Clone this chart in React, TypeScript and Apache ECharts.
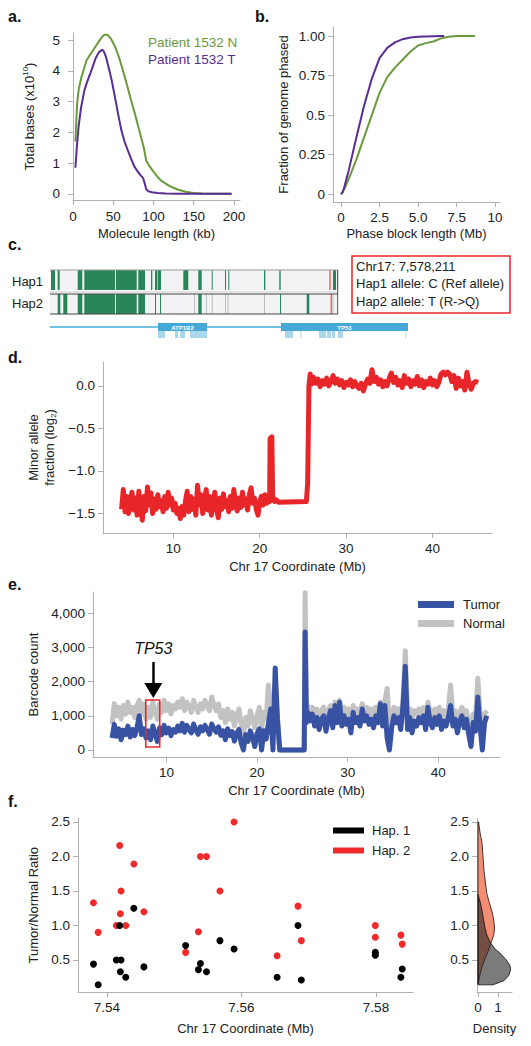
import React, { useEffect, useRef } from 'react';
import * as echarts from 'echarts';

const FONT = 'Liberation Sans, Arial, sans-serif';
const GREEN = '#6a9a3c';
const PURPLE = '#5a2d93';
const RED = '#e8262a';
const BLUE = '#3953a4';
const GRAY = '#c2c2c2';
const AX = '#b0b0b0';
const TXT = '#222222';

// ---------- Panel a: molecule length distribution ----------
const aNormal = [[3,1.7],[5,2.9],[7,3.38],[10,3.75],[14,4.1],[17,4.35],[22,4.55],[27,4.75],[32,4.95],[36,5.1],[39,5.17],[43,5.17],[47,5.05],[52,4.8],[57,4.45],[62,4.02],[67,3.55],[72,3.06],[77,2.6],[81,2.2],[84,1.9],[88,1.5],[91,1.08],[95,0.9],[100,0.72],[105,0.55],[110,0.42],[120,0.25],[130,0.14],[140,0.07],[150,0.03],[160,0.01],[175,0],[197,0]];
const aTumor = [[3,0.85],[5,1.6],[7,2.2],[10,2.8],[14,3.35],[17,3.6],[22,3.95],[28,4.4],[32,4.6],[36,4.68],[38,4.65],[41,4.45],[44,4.14],[48,3.7],[52,3.16],[56,2.6],[60,2.08],[64,1.7],[68,1.42],[72,1.15],[76,0.9],[80,0.74],[84,0.6],[87,0.52],[89,0.35],[91,0.15],[94,0.08],[98,0.05],[105,0.03],[115,0.01],[130,0],[197,0]];
const aXTicks = [0, 50, 100, 150, 200];
const aYTicks = [0, 1, 2, 3, 4, 5];

// ---------- Panel b: phase block length CDF ----------
const bNormal = [[0,0],[0.15,0.02],[0.3,0.05],[0.6,0.12],[1,0.22],[1.5,0.36],[2,0.5],[2.5,0.64],[3,0.74],[3.5,0.8],[4,0.85],[4.5,0.9],[5,0.94],[5.5,0.955],[6,0.965],[6.5,0.985],[7,0.995],[7.5,1.0],[8.7,1.0]];
const bTumor = [[0,0],[0.1,0.01],[0.2,0.04],[0.5,0.15],[1,0.36],[1.5,0.56],[2,0.73],[2.5,0.86],[3,0.925],[3.5,0.96],[4,0.98],[4.5,0.99],[5,0.995],[6,0.998],[6.7,1.0]];
const bXTicks = [0, 2.5, 5, 7.5, 10];
const bXLabels = ['0', '2.5', '5.0', '7.5', '10'];
const bYTicks = [0, 0.25, 0.5, 0.75, 1];
const bYLabels = ['0', '0.25', '0.5', '0.75', '1.00'];

// ---------- Panel c: haplotype tracks (relative position units) ----------
const hapTrackEnd = 288;
const hap1Green = [[1,5],[7.7,9.7],[27.7,32.3],[34.3,65],[66,86.7],[88.3,95],[101,102.3],[105,107.3],[107.8,111],[133.3,138.3],[148.3,151.7],[161.7,162.7],[175,175.8],[178.3,179.3],[214,215.3],[229.3,230.7],[283,286],[287,288]];
const hap2Green = [[7.7,10.3],[13.3,17.3],[27.7,32.3],[34.3,65],[66,86.7],[88.3,95],[105,106],[110,111],[148.3,151.7],[230,231],[256.7,259.3]];
const hap2Gray = [[144,145],[156,156.7],[161.7,162.7],[175,176],[177.5,178.3],[214,215],[282.5,283.2]];
const snvPosition = [279.5, 280.7];
const geneSpan = [0, 358];
const genes = [{ name: 'ATP1B2', start: 108, end: 157 }, { name: 'TP53', start: 231, end: 358 }];
const exons = [[108,115],[125,128],[130,135],[140,157],[235,243],[250.5,251.5],[269,276],[277,281],[282,285],[288,293],[355.5,356.5]];
const snvInfo = ['Chr17: 7,578,211', 'Hap1 allele: C (Ref allele)', 'Hap2 allele: T (R->Q)'];

// ---------- Panel d: minor allele fraction ----------
const dMinorAllele = [
[4.0,-1.45],[4.2,-1.22],[4.4,-1.48],[4.6,-1.30],[4.8,-1.50],[5.0,-1.35],[5.2,-1.25],[5.4,-1.46],[5.6,-1.32],[5.8,-1.52],
[6.0,-1.24],[6.2,-1.44],[6.4,-1.58],[6.6,-1.30],[6.8,-1.47],[7.0,-1.19],[7.2,-1.40],[7.4,-1.26],[7.6,-1.50],[7.8,-1.33],
[8.0,-1.45],[8.2,-1.28],[8.4,-1.42],[8.6,-1.35],[8.8,-1.48],[9.0,-1.30],[9.2,-1.44],[9.4,-1.25],[9.6,-1.40],[9.8,-1.32],
[10.0,-1.46],[10.2,-1.38],[10.4,-1.50],[10.6,-1.44],[10.8,-1.56],[11.0,-1.42],[11.2,-1.52],[11.4,-1.36],[11.6,-1.24],[11.8,-1.48],
[12.0,-1.30],[12.2,-1.45],[12.4,-1.33],[12.6,-1.52],[12.8,-1.17],[13.0,-1.40],[13.2,-1.28],[13.4,-1.50],[13.6,-1.35],[13.8,-1.22],
[14.0,-1.46],[14.2,-1.30],[14.4,-1.52],[14.6,-1.38],[14.8,-1.25],[15.0,-1.44],[15.2,-1.55],[15.4,-1.32],[15.6,-1.45],[15.8,-1.27],
[16.0,-1.42],[16.2,-1.35],[16.4,-1.48],[16.6,-1.30],[16.8,-1.44],[17.0,-1.22],[17.2,-1.38],[17.4,-1.47],[17.6,-1.32],[17.8,-1.43],
[18.0,-1.25],[18.2,-1.40],[18.4,-1.33],[18.6,-1.46],[18.8,-1.28],[19.0,-1.20],[19.2,-1.38],[19.4,-1.32],[19.6,-1.45],[19.8,-1.52],
[20.0,-1.36],[20.2,-1.30],[20.4,-1.40],[20.6,-1.28],[20.8,-1.38],[21.0,-1.33],[21.15,-1.36],[21.2,-0.62],[21.4,-0.60],[21.5,-1.30],
[21.7,-1.36],[21.9,-1.34],[22.2,-1.37],[25.4,-1.36],[25.55,-1.15],[25.7,0.0],[25.85,0.14],
[26.0,0.02],[26.25,0.10],[26.5,0.03],[26.75,0.08],[27.0,-0.01],[27.25,0.06],[27.5,0.02],[27.75,0.09],[28.0,0.00],[28.25,0.05],
[28.5,0.12],[28.75,0.03],[29.0,0.08],[29.25,0.01],[29.5,0.06],[29.75,-0.02],[30.0,0.04],[30.25,0.01],[30.5,0.07],[30.75,-0.01],
[31.0,0.05],[31.25,0.00],[31.5,-0.03],[31.75,0.03],[32.0,-0.06],[32.25,0.02],[32.5,0.08],[32.75,0.03],[33.0,0.19],[33.25,0.05],
[33.5,0.10],[33.75,0.02],[34.0,0.07],[34.25,-0.01],[34.5,0.05],[34.75,0.00],[35.0,0.09],[35.25,0.15],[35.5,0.04],[35.75,0.10],
[36.0,0.01],[36.25,0.06],[36.5,-0.02],[36.75,0.12],[37.0,0.03],[37.25,0.08],[37.5,-0.01],[37.75,0.06],[38.0,0.02],[38.25,0.11],
[38.5,0.00],[38.75,0.07],[39.0,-0.02],[39.25,0.05],[39.5,0.02],[39.75,0.09],[40.0,0.01],[40.25,0.06],[40.5,-0.01],[40.75,0.04],
[41.0,0.14],[41.25,0.16],[41.5,0.13],[41.75,0.16],[42.0,0.14],[42.25,0.05],[42.5,0.12],[42.75,-0.03],[43.0,0.09],[43.25,0.00],
[43.5,0.05],[43.75,-0.05],[44.0,0.16],[44.25,0.02],[44.5,-0.04],[44.75,0.03],[45.0,0.05],[45.3,0.04]
];
const dXTicks = [10, 20, 30, 40];
const dYTicks = [-1.5, -1.0, -0.5, 0.0];

// ---------- Panel e: barcode counts ----------
const eCoord = [
4.0,4.25,4.5,4.75,5.0,5.25,5.5,5.75,6.0,6.25,6.5,6.75,7.0,7.25,7.5,7.75,8.0,8.25,8.5,8.75,
9.0,9.25,9.5,9.75,10.0,10.25,10.5,10.75,11.0,11.25,11.5,11.75,12.0,12.25,12.5,12.75,13.0,13.25,13.5,13.75,
14.0,14.25,14.5,14.75,15.0,15.25,15.5,15.75,16.0,16.25,16.5,16.75,17.0,17.25,17.5,17.75,18.0,18.25,18.5,18.75,
19.0,19.25,19.5,19.75,20.0,20.25,20.5,20.75,21.0,21.25,21.5,21.75,22.0,22.25,22.5,
25.2,25.3,25.45,
25.6,25.85,26.1,26.35,26.6,26.85,27.1,27.35,27.6,27.85,28.1,28.35,28.6,28.85,29.1,29.35,29.6,29.85,30.1,30.35,
30.6,30.85,31.1,31.35,31.6,31.85,32.1,32.35,32.6,32.85,33.1,33.35,33.6,33.85,34.1,34.35,34.6,34.85,35.1,35.35,
35.6,35.85,36.1,36.35,36.6,36.85,37.1,37.35,37.6,37.85,38.1,38.35,38.6,38.85,39.1,39.35,39.6,39.85,40.1,40.35,
40.6,40.85,41.1,41.35,41.6,41.85,42.1,42.35,42.6,42.85,43.1,43.35,43.6,43.85,44.1,44.35,44.6,44.85,45.1,45.35
];
const eTumor = [
350,750,400,620,300,580,450,700,380,600,420,650,1000,450,620,350,560,300,700,480,
250,650,450,720,500,640,420,600,520,700,560,780,520,720,600,500,760,580,460,680,
560,720,600,460,760,620,520,680,430,560,300,620,420,540,260,480,600,200,0,450,
250,560,380,100,480,620,0,560,320,780,1200,0,2400,900,0,
0,3450,800,
1100,850,1050,700,950,600,900,1000,550,900,1150,650,1300,800,1400,700,1000,750,900,500,
1100,800,950,700,1200,850,1000,750,900,650,1000,800,1350,700,1300,350,0,650,1000,800,
950,600,1300,2450,600,950,500,850,700,950,800,1000,600,1250,800,650,950,750,1000,600,
850,700,950,1300,700,900,500,850,1000,650,900,450,100,800,550,1550,700,0,800,1000
];
const eNormal = [
750,1350,1000,1250,900,1300,1050,1400,1100,1250,950,1300,1450,1050,1350,900,1250,950,1400,1150,
900,1350,1100,1450,1150,1350,1050,1300,1200,1400,1250,1500,1150,1400,1250,1100,1450,1250,1100,1350,
1200,1450,1300,1150,1550,1300,1150,1350,950,1150,800,1200,900,1100,700,1000,1200,750,500,950,
700,1150,900,650,1000,1250,600,1100,900,1900,1300,500,2000,900,0,
0,4600,1000,
1300,1100,1250,1000,1200,950,1150,1250,900,1150,1300,1000,1400,1100,1450,1050,1250,1050,1200,900,
1300,1100,1200,1000,1350,1100,1250,1050,1200,950,1250,1100,1400,1050,1450,1800,600,1000,1250,1100,
1200,950,1450,2900,1000,1200,900,1150,1050,1200,1100,1250,950,1400,1100,1000,1200,1050,1250,950,
1150,1000,1200,1900,1000,1150,850,1100,1250,1000,1150,800,500,1050,900,2100,1000,400,1050,1150
];
const eXTicks = [10, 20, 30, 40];
const eYTicks = [0, 1000, 2000, 3000, 4000];
const tp53Box = [[7.72, 1462], [9.26, 88]];
const tp53Arrow = [[8.55, 2573], [8.55, 1740]];

// ---------- Panel f: tumor / normal ratio ----------
const hap1Points = [[7.538,0.44],[7.5387,0.14],[7.5414,0.50],[7.5421,0.50],[7.5419,1.0],[7.5420,0.33],[7.5428,0.25],[7.5440,1.25],[7.5455,0.40],[7.5517,0.71],[7.5536,0.36],[7.5539,0.45],[7.5548,0.33],[7.5568,0.78],[7.5589,0.66],[7.5653,0.25],[7.5684,1.0],[7.5689,0.21],[7.5799,0.61],[7.5799,0.57],[7.5837,0.25],[7.5839,0.37]];
const hap2Points = [[7.538,1.33],[7.5387,0.90],[7.5419,2.16],[7.5421,1.50],[7.5420,1.17],[7.5414,1.0],[7.5428,1.0],[7.5440,1.89],[7.5455,1.20],[7.5517,0.61],[7.5536,0.91],[7.5539,2.0],[7.5548,2.0],[7.5568,1.5],[7.5589,2.5],[7.5653,0.56],[7.5684,1.28],[7.5689,0.78],[7.5799,1.0],[7.5799,0.83],[7.5837,0.86],[7.5839,0.73]];
const fXTicks = [7.54, 7.56, 7.58];
const fYTicks = [0.5, 1.0, 1.5, 2.0, 2.5];
const hap2Density = [[0,2.5],[0.03,2.5],[0.1,2.35],[0.2,2.2],[0.25,2.0],[0.3,1.8],[0.38,1.6],[0.45,1.45],[0.58,1.32],[0.72,1.18],[0.8,1.05],[0.83,0.95],[0.78,0.85],[0.65,0.75],[0.5,0.62],[0.32,0.5],[0.18,0.38],[0.07,0.25],[0,0.15]];
const hap1Density = [[0,1.45],[0.1,1.35],[0.18,1.25],[0.25,1.13],[0.33,1.0],[0.42,0.88],[0.6,0.76],[0.85,0.66],[1.1,0.6],[1.42,0.5],[1.6,0.42],[1.63,0.36],[1.55,0.28],[1.3,0.2],[0.75,0.14],[0,0.14]];
const densityTicks = [0, 1];

// ---------- helpers ----------
function axis(gridIndex: number, min: number, max: number, ticks: number[] | null, fmt: any, name: string, nameGap: number, extra: any = {}) {
  return {
    type: 'value', gridIndex, min, max,
    show: ticks !== null,
    name, nameLocation: 'middle', nameGap,
    nameTextStyle: { color: TXT, fontSize: 13, fontFamily: FONT, ...(extra.nameTextStyle || {}) },
    axisLine: { show: true, onZero: false, lineStyle: { color: AX, width: 1 } },
    axisTick: { show: true, length: 5, lineStyle: { color: AX }, customValues: ticks || undefined },
    axisLabel: { color: TXT, fontSize: 13.5, fontFamily: FONT, customValues: ticks || undefined, formatter: fmt, margin: extra.margin ?? 8 },
    splitLine: { show: false },
    inverse: extra.inverse || false,
  };
}
const lookup = (vals: number[], labels: string[]) => (v: number) => {
  const i = vals.findIndex((t) => Math.abs(t - v) < 1e-9);
  return i >= 0 ? labels[i] : '';
};

// panel c items
type CItem = { value: number[]; kind: string; label?: string };
const cData: CItem[] = [];
cData.push({ value: [0, hapTrackEnd, 2, 22], kind: 'bg' });
cData.push({ value: [0, hapTrackEnd, 26, 46], kind: 'bg' });
cData.push({ value: [0, hapTrackEnd, 23, 25], kind: 'stripe' });
hap1Green.forEach((s) => cData.push({ value: [s[0], s[1], 2, 22], kind: 'green' }));
hap2Green.forEach((s) => cData.push({ value: [s[0], s[1], 26, 46], kind: 'green' }));
hap2Gray.forEach((s) => cData.push({ value: [s[0], s[1], 26, 46], kind: 'gray' }));
cData.push({ value: [snvPosition[0], snvPosition[0] + 1, 2, 22], kind: 'red' });
cData.push({ value: [snvPosition[1], snvPosition[1] + 1, 26, 46], kind: 'red' });
cData.push({ value: [0, hapTrackEnd, 2, 2], kind: 'hlineLight' });
cData.push({ value: [0, hapTrackEnd, 26, 26], kind: 'hline' });
cData.push({ value: [0, hapTrackEnd, 46, 46], kind: 'hline' });
cData.push({ value: [hapTrackEnd - 0.8, hapTrackEnd, 2, 46], kind: 'edge' });
cData.push({ value: [geneSpan[0], geneSpan[1], 58.3, 59.7], kind: 'geneLine' });
exons.forEach((s) => cData.push({ value: [s[0], s[1], 63, 70], kind: 'exon' }));
genes.forEach((g) => cData.push({ value: [g.start, g.end, 55, 63], kind: 'gene', label: g.name }));
const cColors: Record<string, string> = {
  bg: '#f3f3f5', stripe: '#e2e2e4', green: '#2a8559', gray: '#bdbdbd', red: '#e8262a',
  hline: '#444444', hlineLight: '#9a9a9a', edge: '#555555', geneLine: '#45aede', exon: '#a9d8ec', gene: '#45a8d6',
};

const option: any = {
  animation: false,
  textStyle: { fontFamily: FONT },
  grid: [
    { left: 73, top: 33, width: 167, height: 167 },
    { left: 333, top: 27, width: 167, height: 175 },
    { left: 50, top: 268, width: 358, height: 72 },
    { left: 103, top: 362, width: 389, height: 171 },
    { left: 93, top: 592, width: 407, height: 165 },
    { left: 78, top: 818.5, width: 335, height: 173.5 },
    { left: 477, top: 818.5, width: 35, height: 173.5 },
  ],
  xAxis: [
    axis(0, 0, 207.5, aXTicks, (v: number) => String(v), 'Molecule length (kb)', 27, { margin: 9 }),
    axis(1, -0.52, 10.32, bXTicks, lookup(bXTicks, bXLabels), 'Phase block length (Mb)', 25),
    { ...axis(2, 0, 358, null, null, '', 0), show: false },
    axis(3, 1.85, 46.9, dXTicks, (v: number) => String(v), 'Chr 17 Coordinate (Mb)', 27),
    axis(4, 1.9, 46.8, eXTicks, (v: number) => String(v), 'Chr 17 Coordinate (Mb)', 27),
    axis(5, 7.5357, 7.5855, fXTicks, (v: number) => v.toFixed(2), 'Chr 17 Coordinate (Mb)', 30),
    axis(6, -0.05, 1.7, densityTicks, (v: number) => String(v), 'Density', 30),
  ],
  yAxis: [
    axis(0, -0.2, 5.23, aYTicks, (v: number) => String(v), '{a|Total bases (x10}{s|10}{a|)}', 36, {
      margin: 13,
      nameTextStyle: { rich: { a: { fontSize: 13, fontFamily: FONT, color: TXT, lineHeight: 16 }, s: { fontSize: 8, fontFamily: FONT, color: TXT, verticalAlign: 'top', lineHeight: 16 } } },
    }),
    axis(1, -0.05, 1.057, bYTicks, lookup(bYTicks, bYLabels), 'Fraction of genome phased', 43),
    { ...axis(2, 0, 72, null, null, '', 0, { inverse: true }), show: false },
    axis(3, -1.73, 0.28, dYTicks, (v: number) => v.toFixed(1).replace('-', '\u2212'), '{a|Minor allele}\n{a|fraction (log}{s|2}{a|)}', 46, {
      nameTextStyle: { rich: { a: { fontSize: 13, fontFamily: FONT, color: TXT, lineHeight: 16 }, s: { fontSize: 8, fontFamily: FONT, color: TXT, verticalAlign: 'bottom', lineHeight: 12 } } },
    }),
    axis(4, -205, 4620, eYTicks, (v: number) => v.toLocaleString('en-US'), 'Barcode count', 51),
    axis(5, 0.036, 2.55, fYTicks, (v: number) => v.toFixed(1), 'Tumor/Normal Ratio', 38),
    axis(6, 0.036, 2.55, fYTicks, (v: number) => v.toFixed(1), '', 0),
  ],
  legend: [
    {
      left: 138, top: 30, orient: 'vertical', icon: 'none', itemWidth: 0, itemGap: 3, selectedMode: false,
      textStyle: { fontSize: 13.5, fontFamily: FONT },
      data: [
        { name: 'Patient 1532 N', textStyle: { color: GREEN } },
        { name: 'Patient 1532 T', textStyle: { color: PURPLE } },
      ],
    },
    {
      left: 413, top: 593, orient: 'vertical', icon: 'rect', itemWidth: 36, itemHeight: 7, itemGap: 6, selectedMode: false,
      textStyle: { fontSize: 13, fontFamily: FONT, color: TXT, padding: [0, 0, 0, 4] },
      data: ['Tumor', 'Normal'],
    },
    {
      left: 328, top: 819, orient: 'vertical', icon: 'rect', itemWidth: 31, itemHeight: 6, itemGap: 7, selectedMode: false,
      textStyle: { fontSize: 13, fontFamily: FONT, color: TXT, padding: [0, 0, 0, 3] },
      data: ['Hap. 1', 'Hap. 2'],
    },
  ],
  series: [
    { name: 'Patient 1532 N', type: 'line', xAxisIndex: 0, yAxisIndex: 0, data: aNormal, showSymbol: false, color: GREEN, lineStyle: { width: 2, color: GREEN } },
    { name: 'Patient 1532 T', type: 'line', xAxisIndex: 0, yAxisIndex: 0, data: aTumor, showSymbol: false, color: PURPLE, lineStyle: { width: 2, color: PURPLE } },
    { name: 'Normal phasing', type: 'line', xAxisIndex: 1, yAxisIndex: 1, data: bNormal, showSymbol: false, lineStyle: { width: 2, color: GREEN } },
    { name: 'Tumor phasing', type: 'line', xAxisIndex: 1, yAxisIndex: 1, data: bTumor, showSymbol: false, lineStyle: { width: 2, color: PURPLE } },
    {
      name: 'Haplotype tracks', type: 'custom', xAxisIndex: 2, yAxisIndex: 2, data: cData.map((d) => d.value),
      renderItem: (params: any, api: any) => {
        const d = cData[params.dataIndex];
        const [x0, x1, y0, y1] = d.value;
        const p0 = api.coord([x0, y0]);
        const p1 = api.coord([x1, y1]);
        let h = Math.abs(p1[1] - p0[1]);
        let y = Math.min(p0[1], p1[1]);
        if (d.kind === 'hline' || d.kind === 'hlineLight') { h = 1.2; y -= 0.6; }
        const rect = { x: p0[0], y, width: Math.max(p1[0] - p0[0], 1), height: h };
        if (d.kind === 'gene') {
          return {
            type: 'group',
            children: [
              { type: 'rect', shape: rect, style: { fill: cColors.gene } },
              { type: 'text', style: { text: d.label, x: rect.x + rect.width / 2, y: rect.y + rect.height / 2 + 0.5, align: 'center', verticalAlign: 'middle', fill: '#ffffff', font: 'bold 6px ' + FONT } },
            ],
          };
        }
        return { type: 'rect', shape: rect, style: { fill: cColors[d.kind] } };
      },
    },
    { name: 'Minor allele fraction', type: 'line', xAxisIndex: 3, yAxisIndex: 3, data: dMinorAllele, showSymbol: false, lineStyle: { width: 5, color: RED, join: 'round' } },
    { name: 'Normal', type: 'line', xAxisIndex: 4, yAxisIndex: 4, data: eCoord.map((x, i) => [x, eNormal[i]]), showSymbol: false, color: GRAY, lineStyle: { width: 5, color: GRAY, join: 'round' } },
    { name: 'Tumor', type: 'line', xAxisIndex: 4, yAxisIndex: 4, data: eCoord.map((x, i) => [x, eTumor[i]]), showSymbol: false, color: BLUE, lineStyle: { width: 5, color: BLUE, join: 'round' } },
    {
      name: 'TP53 annotation', type: 'line', xAxisIndex: 4, yAxisIndex: 4, data: [], z: 10,
      markArea: { silent: true, z: 10, itemStyle: { color: 'rgba(0,0,0,0)', borderColor: RED, borderWidth: 1.6 }, data: [[{ coord: tp53Box[0] }, { coord: tp53Box[1] }]] },
      markLine: {
        silent: true, z: 10, symbol: ['none', 'triangle'], symbolSize: [18, 15],
        lineStyle: { color: '#000', width: 2.5, type: 'solid' },
        label: { show: true, position: 'start', formatter: 'TP53', fontStyle: 'italic', fontSize: 16, fontFamily: FONT, color: '#111', distance: 6 },
        data: [[{ coord: tp53Arrow[0] }, { coord: tp53Arrow[1] }]],
      },
    },
    { name: 'Hap. 2', type: 'scatter', xAxisIndex: 5, yAxisIndex: 5, data: hap2Points, symbolSize: 7, color: '#f02a2a', itemStyle: { color: '#f02a2a', opacity: 1 } },
    { name: 'Hap. 1', type: 'scatter', xAxisIndex: 5, yAxisIndex: 5, data: hap1Points, symbolSize: 7, color: '#000', itemStyle: { color: '#000', opacity: 1 } },
    {
      name: 'Hap. 2 density', type: 'custom', xAxisIndex: 6, yAxisIndex: 6, data: [[0.5, 1]],
      renderItem: (_p: any, api: any) => ({ type: 'polygon', shape: { points: hap2Density.map((p) => api.coord(p)) }, style: { fill: 'rgba(240,122,92,0.85)', stroke: '#111', lineWidth: 0.8 } }),
    },
    {
      name: 'Hap. 1 density', type: 'custom', xAxisIndex: 6, yAxisIndex: 6, data: [[0.5, 1]],
      renderItem: (_p: any, api: any) => ({ type: 'polygon', shape: { points: hap1Density.map((p) => api.coord(p)) }, style: { fill: 'rgba(35,35,35,0.6)', stroke: '#111', lineWidth: 0.8 } }),
    },
  ],
  graphic: [
    ...[['a.', 8, 16], ['b.', 255, 16], ['c.', 8, 244], ['d.', 8, 357], ['e.', 8, 584], ['f.', 8, 801]].map((l: any) => ({
      type: 'text', x: l[1], y: l[2], style: { text: l[0], font: 'bold 16px ' + FONT, fill: '#111', verticalAlign: 'middle' },
    })),
    { type: 'text', x: 12, y: 281, style: { text: 'Hap1', font: '13px ' + FONT, fill: TXT, verticalAlign: 'middle' } },
    { type: 'text', x: 12, y: 303, style: { text: 'Hap2', font: '13px ' + FONT, fill: TXT, verticalAlign: 'middle' } },
    { type: 'rect', shape: { x: 352, y: 256, width: 158, height: 57 }, style: { fill: 'none', stroke: RED, lineWidth: 1.5 } },
    ...snvInfo.map((t, i) => ({ type: 'text', x: 356, y: 266 + i * 17.8, style: { text: t, font: '13px ' + FONT, fill: TXT, verticalAlign: 'middle' } })),
  ],
};

export default function App() {
  const ref = useRef<HTMLDivElement>(null);
  useEffect(() => {
    document.body.style.margin = '0';
    const chart = echarts.init(ref.current!, null, { renderer: 'svg' });
    chart.setOption(option);
    return () => chart.dispose();
  }, []);
  return <div ref={ref} style={{ width: 531, height: 1046 }} />;
}
